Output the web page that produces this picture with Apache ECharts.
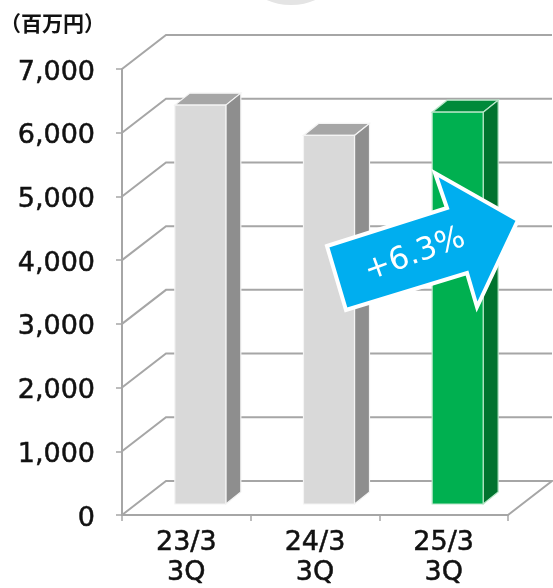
<!DOCTYPE html>
<html><head><meta charset="utf-8">
<style>html,body{margin:0;padding:0;background:#fff;overflow:hidden;width:553px;height:588px}#c{width:553px;height:588px}</style>
<script src="https://cdn.jsdelivr.net/npm/echarts@6/dist/echarts.min.js"></script>
</head><body><div id="c"></div>
<script>
const categories = ['23/3\n3Q','24/3\n3Q','25/3\n3Q'];
const values = [6260,5785,6150];
const yTicks = [0,1000,2000,3000,4000,5000,6000,7000];
const changeLabel = '+6.3%';
const unitLabel = '（百万円）';
const faceColors = [
 {front:'#D9D9D9',side:'#8E8E8E',top:'#A6A6A6'},
 {front:'#D9D9D9',side:'#8E8E8E',top:'#A6A6A6'},
 {front:'#00B050',side:'#00732E',top:'#008A3A'}
];
const wallDX=44, wallDY=-34, barW=51, barDX=15, barDY=-12, barShift=-11.5, baseLift=-11;
const gridColor='#A6A6A6';
const chart = echarts.init(document.getElementById('c'),null,{renderer:'canvas',width:553,height:588});
chart.setOption({
 animation:false,
 backgroundColor:'#fff',
 title:{text:unitLabel,left:0,top:13,padding:0,textStyle:{fontFamily:'"Noto Sans CJK JP"',fontSize:21,fontWeight:'bold',color:'#111'}},
 grid:{left:122,width:386,top:69,height:452.5,containLabel:false},
 xAxis:{type:'category',data:categories,
  axisLine:{lineStyle:{color:gridColor,width:2}},
  axisTick:{show:true,length:6,lineStyle:{color:gridColor,width:1.5}},
  axisLabel:{fontFamily:'"DejaVu Sans"',fontSize:27,color:'#111',lineHeight:30,margin:13,interval:0,textBorderColor:'#111',textBorderWidth:0.5}},
 yAxis:{type:'value',min:0,max:7000,interval:1000,
  axisLine:{show:true,lineStyle:{color:gridColor,width:2}},
  axisTick:{show:true,length:6,lineStyle:{color:gridColor,width:1.5}},
  splitLine:{show:false},
  axisLabel:{fontFamily:'"DejaVu Sans"',fontSize:27,color:'#111',margin:27,verticalAlign:'top',lineHeight:7,textBorderColor:'#111',textBorderWidth:0.5,
   formatter:v=>v.toLocaleString('en-US')}},
 series:[
  {type:'custom',z:1,silent:true,data:yTicks.map(t=>[0,t]),encode:{x:0,y:1},
   renderItem(p,api){
    const y=api.coord([0,api.value(1)])[1], cs=p.coordSys, x0=cs.x, x1=cs.x+cs.width;
    const st={stroke:gridColor,lineWidth:2,fill:null};
    const pts=[[x0,y],[x0+wallDX,y+wallDY],[x1+wallDX,y+wallDY]];
    if(api.value(1)===0) pts.push([x1,y]);
    return {type:'polyline',shape:{points:pts},style:st};
   }},
  {type:'custom',z:3,silent:true,data:values.map((v,i)=>[i,v]),encode:{x:0,y:1},
   renderItem(p,api){
    const i=api.value(0), top=api.coord([i,api.value(1)]), base=api.coord([i,0]);
    const c=faceColors[i], l=top[0]+barShift, r=l+barW, t=top[1]+baseLift, b=base[1]+baseLift;
    const edge=i===2?'#B8E6C8':'#F4F4F4';
    return {type:'group',children:[
     {type:'polygon',shape:{points:[[l,t],[r,t],[r+barDX,t+barDY],[l+barDX,t+barDY]]},style:{fill:c.top,stroke:edge,lineWidth:1.2}},
     {type:'polygon',shape:{points:[[r,t],[r+barDX,t+barDY],[r+barDX,b+barDY],[r,b]]},style:{fill:c.side,stroke:edge,lineWidth:1.2}},
     {type:'rect',shape:{x:l,y:t,width:barW,height:b-t},style:{fill:c.front,stroke:edge,lineWidth:1.2}}
    ]};
   }}
 ],
 graphic:[
  {type:'ellipse',z:0,silent:true,shape:{cx:291,cy:-22,rx:42,ry:27},style:{fill:'#E4E4E4'}},
  {type:'polygon',z:50,shape:{points:[[327,246],[447,208],[435,173],[518,220],[477,307],[467,273],[346,310]]},
   style:{fill:'#00AEEF',stroke:'#fff',lineWidth:4,lineJoin:'miter'}},
  {type:'text',z:51,x:415,y:255,rotation:20*Math.PI/180,originX:0,originY:0,
   style:{text:changeLabel,x:0,y:0,align:'center',verticalAlign:'middle',fill:'#fff',font:'31px "DejaVu Sans"'}}
 ]
});
</script></body></html>
